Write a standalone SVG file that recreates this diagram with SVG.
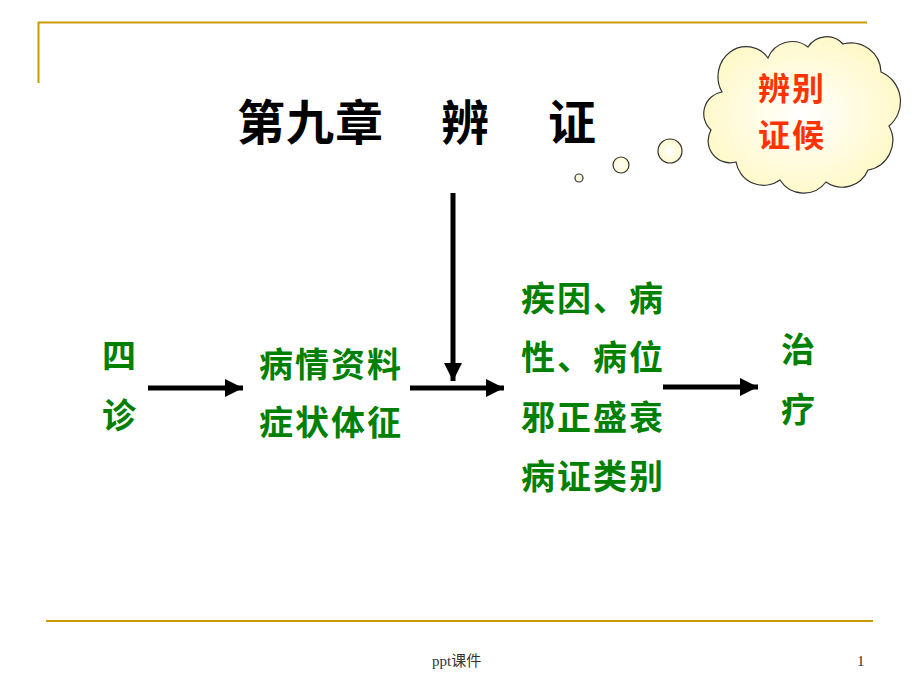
<svg xmlns="http://www.w3.org/2000/svg" width="920" height="690" viewBox="0 0 920 690">
<defs>
<style>
.frame{stroke:#cc9900;stroke-width:2;fill:none}
.title{font-family:"Noto Sans CJK SC","Noto Sans",sans-serif;font-weight:bold;font-size:48px;fill:#000;letter-spacing:1px}
.g{font-family:"Noto Sans CJK SC","Noto Sans",sans-serif;font-weight:bold;font-size:34px;fill:#008000;letter-spacing:2px}
.r{font-family:"Noto Sans CJK SC","Noto Sans",sans-serif;font-weight:bold;font-size:32px;fill:#ff3300;letter-spacing:2px}
.foot{font-family:"Liberation Serif","Noto Sans CJK SC",serif;font-size:15px;fill:#333}
.conn{stroke:#000;stroke-width:5;fill:none;marker-end:url(#ah)}
.bub{fill:url(#cg);stroke:#333;stroke-width:1.2}
</style>
<marker id="ah" viewBox="0 0 10 10" refX="10" refY="5" markerWidth="3.6" markerHeight="3.6" orient="auto" markerUnits="strokeWidth">
<path d="M0,0 L10,5 L0,10 Z" fill="#000"/>
</marker>
<radialGradient id="cg" cx="0.5" cy="0.5" r="0.6">
<stop offset="0" stop-color="#ffffff"/>
<stop offset="1" stop-color="#fff8c0"/>
</radialGradient>
</defs>
<rect width="920" height="690" fill="#fff"/>
<g id="frame">
<line class="frame" x1="38" y1="22.5" x2="867" y2="22.5"/>
<line class="frame" x1="38.5" y1="22" x2="38.5" y2="83"/>
<line class="frame" x1="46" y1="621" x2="873" y2="621"/>
</g>
<g id="title">
<text class="title" x="237" y="140">第九章</text>
<text class="title" x="441" y="140">辨</text>
<text class="title" x="548" y="140">证</text>
</g>
<g id="cloud">
<circle class="bub" cx="579" cy="178" r="4"/>
<circle class="bub" cx="621" cy="165" r="8"/>
<circle class="bub" cx="670" cy="151" r="12"/>
<path class="bub" d="M722,92 A28,30 0 0 1 768,58 A26,26 0 0 1 808,47 A22,22 0 0 1 843,44 A30,30 0 0 1 881,72 A32,32 0 0 1 889,126 A30,30 0 0 1 868,170 A28,28 0 0 1 826,182 A28,28 0 0 1 780,180 A28,28 0 0 1 736,162 A22,22 0 0 1 711,130 A22,22 0 0 1 722,92 Z"/>
<text class="r" x="758" y="100">辨别</text>
<text class="r" x="758" y="147">证候</text>
</g>
<g id="node-sizhen">
<text class="g" x="102" y="368">四</text>
<text class="g" x="102" y="428">诊</text>
</g>
<g id="node-ziliao">
<text class="g" x="259" y="377">病情资料</text>
<text class="g" x="259" y="435">症状体征</text>
</g>
<g id="node-bianzheng">
<text class="g" x="521" y="311">疾因、病</text>
<text class="g" x="521" y="370">性、病位</text>
<text class="g" x="521" y="430">邪正盛衰</text>
<text class="g" x="521" y="489">病证类别</text>
</g>
<g id="node-zhiliao">
<text class="g" x="781" y="362">治</text>
<text class="g" x="781" y="422">疗</text>
</g>
<g id="connectors">
<line class="conn" x1="148" y1="388" x2="243" y2="388"/>
<line class="conn" x1="410" y1="388" x2="504" y2="388"/>
<line class="conn" x1="663" y1="387" x2="758" y2="387"/>
<line class="conn" x1="453" y1="193" x2="453" y2="381"/>
</g>
<g id="footer">
<text class="foot" x="432" y="666">ppt课件</text>
<text class="foot" x="857" y="666">1</text>
</g>
</svg>
